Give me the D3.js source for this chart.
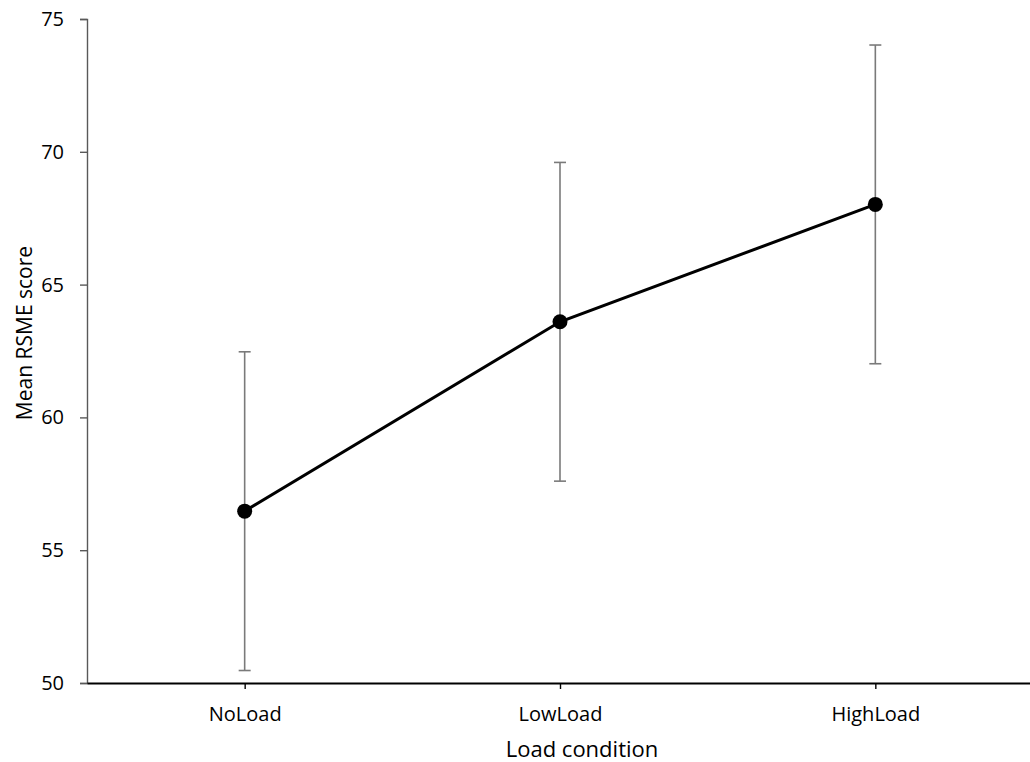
<!DOCTYPE html>
<style>
  body { margin: 0; background: #fff; }
  svg { font-family: "Open Sans", sans-serif; }
</style>
<svg width="1030" height="762"></svg>
<script src="https://d3js.org/d3.v7.min.js"></script>
<script>

  var conditions = ["NoLoad", "LowLoad", "HighLoad"];
  var means = [56.47, 63.6, 68.02];
  var errors = [6.0, 6.0, 6.0];
  var yTicks = [50, 55, 60, 65, 70, 75];

  var data = conditions.map(function (c, i) {
    return { name: c, mean: means[i], err: errors[i] };
  });

  var svg = d3.select("svg");

  var x = d3.scalePoint()
    .domain(conditions)
    .range([87, 1033])
    .padding(0.5);

  var y = d3.scaleLinear()
    .domain([50, 75])
    .range([683, 19]);

  // y axis
  var yAxis = svg.append("g")
    .attr("transform", "translate(87,0)")
    .call(d3.axisLeft(y).tickValues(yTicks).tickSize(7).tickPadding(16));
  yAxis.select(".domain").attr("stroke", "#595959").attr("stroke-width", 1.4);
  yAxis.selectAll(".tick line").attr("stroke", "#595959").attr("stroke-width", 1.4);
  yAxis.selectAll("text")
    .attr("font-size", 20)
    .attr("font-family", "Open Sans")
    .attr("fill", "#000");

  // x axis
  var xAxis = svg.append("g")
    .attr("transform", "translate(0,683)")
    .call(d3.axisBottom(x).tickSize(6).tickSizeOuter(0).tickPadding(18));
  xAxis.select(".domain").attr("stroke", "#000").attr("stroke-width", 2.2);
  xAxis.selectAll(".tick line").attr("stroke", "#000").attr("stroke-width", 1.4);
  xAxis.selectAll("text")
    .attr("font-size", 20)
    .attr("font-family", "Open Sans")
    .attr("fill", "#000");

  // axis titles
  svg.append("text")
    .attr("x", 582)
    .attr("y", 757)
    .attr("text-anchor", "middle")
    .attr("font-size", 22)
    .text("Load condition");

  svg.append("text")
    .attr("transform", "translate(32,333) rotate(-90)")
    .attr("text-anchor", "middle")
    .attr("font-size", 21)
    .text("Mean RSME score");

  // error bars
  var eb = svg.append("g")
    .attr("stroke", "#7a7a7a")
    .attr("stroke-width", 1.6)
    .selectAll("g")
    .data(data)
    .enter().append("g");

  eb.append("line")
    .attr("x1", function (d) { return x(d.name); })
    .attr("x2", function (d) { return x(d.name); })
    .attr("y1", function (d) { return y(d.mean + d.err); })
    .attr("y2", function (d) { return y(d.mean - d.err); });

  eb.selectAll(".cap")
    .data(function (d) { return [[d.name, d.mean + d.err], [d.name, d.mean - d.err]]; })
    .enter().append("line")
    .attr("class", "cap")
    .attr("x1", function (d) { return x(d[0]) - 6; })
    .attr("x2", function (d) { return x(d[0]) + 6; })
    .attr("y1", function (d) { return y(d[1]); })
    .attr("y2", function (d) { return y(d[1]); });

  // mean line
  var line = d3.line()
    .x(function (d) { return x(d.name); })
    .y(function (d) { return y(d.mean); });

  svg.append("path")
    .datum(data)
    .attr("fill", "none")
    .attr("stroke", "#000")
    .attr("stroke-width", 3)
    .attr("d", line);

  svg.selectAll(".pt")
    .data(data)
    .enter().append("circle")
    .attr("class", "pt")
    .attr("cx", function (d) { return x(d.name); })
    .attr("cy", function (d) { return y(d.mean); })
    .attr("r", 7.5)
    .attr("fill", "#000");

</script>
